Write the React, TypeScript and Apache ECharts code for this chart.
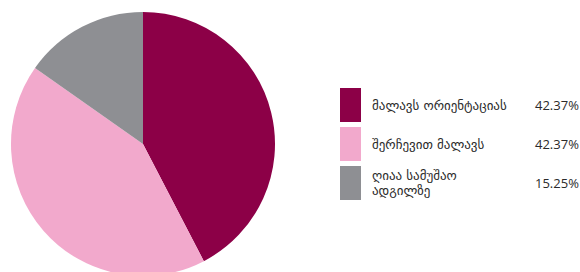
import React, { useEffect, useRef } from "react";
import * as echarts from "echarts";

const categories = ["მალავს ორიენტაციას", "შერჩევით მალავს", "ღიაა სამუშაო ადგილზე"];
const legendLabels = ["მალავს ორიენტაციას", "შერჩევით მალავს", "ღიაა სამუშაო\nადგილზე"];
const values = [42.37, 42.37, 15.25];
const percentLabels = ["42.37%", "42.37%", "15.25%"];
const colors = ["#8C0047", "#F2A9CC", "#8E8F93"];

export default function App() {
  const ref = useRef<HTMLDivElement>(null);
  useEffect(() => {
    if (!ref.current) return;
    const chart = echarts.init(ref.current, undefined, { renderer: "svg" });
    const data = categories.map((name, i) => ({ name, value: values[i], itemStyle: { color: colors[i] } }));
    chart.setOption({
      animation: false,
      backgroundColor: "#ffffff",
      legend: [
        {
          orient: "vertical",
          left: 340,
          top: 88,
          padding: 0,
          itemWidth: 21,
          itemHeight: 34,
          itemGap: 5,
          icon: "rect",
          selectedMode: false,
          data: categories,
          formatter: (name: string) => legendLabels[categories.indexOf(name)],
          textStyle: {
            fontFamily: "DejaVu Sans",
            fontSize: 13,
            color: "#2b2b2b",
            lineHeight: 15,
            padding: [0, 0, 0, 6],
          },
        },
        {
          orient: "vertical",
          left: 529,
          top: 88,
          padding: 0,
          itemWidth: 1,
          itemHeight: 34,
          itemGap: 5,
          icon: "rect",
          itemStyle: { opacity: 0 },
          selectedMode: false,
          data: categories,
          formatter: (name: string) => percentLabels[categories.indexOf(name)],
          textStyle: {
            fontFamily: "Open Sans",
            fontSize: 13,
            color: "#2b2b2b",
          },
        },
      ],
      series: [
        {
          type: "pie",
          center: [143, 144],
          radius: 132,
          startAngle: 90,
          clockwise: true,
          label: { show: false },
          labelLine: { show: false },
          itemStyle: { borderWidth: 0 },
          emphasis: { disabled: true },
          data,
        },
      ],
    });
    return () => chart.dispose();
  }, []);
  return (
    <div
      ref={ref}
      style={{ position: "fixed", left: 0, top: 0, width: 580, height: 272 }}
    />
  );
}
